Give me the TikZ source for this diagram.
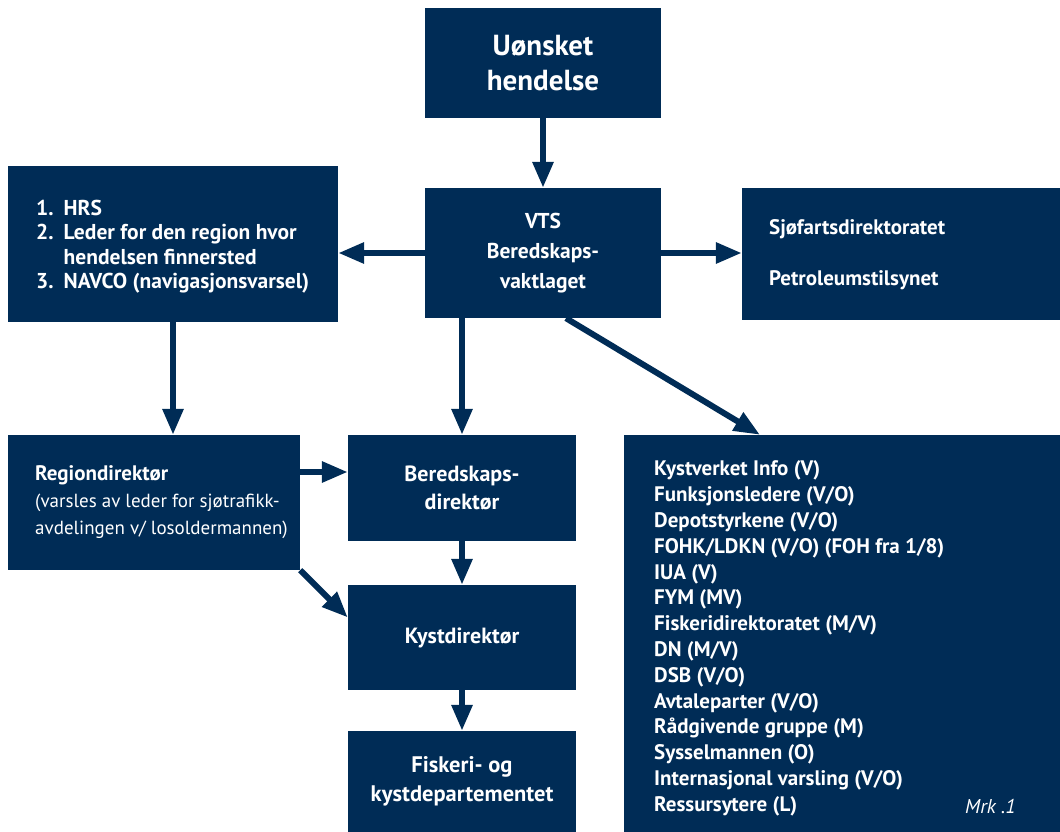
\documentclass[tikz,border=0pt]{standalone}
\usepackage{fontspec}
\setmainfont{PT Sans}
\usetikzlibrary{arrows.meta}
\definecolor{kvblaa}{RGB}{0,44,86}

\begin{document}
\begin{tikzpicture}[x=1pt,y=-1pt]
\tikzset{boks/.style={fill=kvblaa, text=white, inner sep=0pt, align=center},
  tekst/.style={text=white, anchor=west, align=left, inner sep=0pt},
  pil/.style={draw=kvblaa, line width=6pt, -{Triangle[length=26pt,width=20pt]}}}
\useasboundingbox (0,0) rectangle (1060,832);
% bokser
\node[boks, minimum width=236pt, minimum height=110pt, font=\bfseries\fontsize{29}{35}\selectfont] (uonsket) at (543,63) {Uønsket\\hendelse};
\node[boks, minimum width=236pt, minimum height=130pt, font=\bfseries\fontsize{21.5}{30}\selectfont] (vts) at (543,253) {VTS\\Beredskaps-\\vaktlaget};
\node[boks, minimum width=330pt, minimum height=156pt] (hrs) at (173,244) {};
\node[boks, minimum width=318pt, minimum height=132pt] (sjofart) at (901,254) {};
\node[boks, minimum width=292pt, minimum height=135pt] (region) at (154,502.5) {};
\node[boks, minimum width=228pt, minimum height=106pt, font=\bfseries\fontsize{22}{28}\selectfont] (beredskap) at (462,488) {Beredskaps-\\direktør};
\node[boks, minimum width=228pt, minimum height=105pt, font=\bfseries\fontsize{22}{28}\selectfont] (kyst) at (462,637.5) {Kystdirektør};
\node[boks, minimum width=228pt, minimum height=101pt, font=\bfseries\fontsize{22.5}{29}\selectfont] (fiskeri) at (462,781.5) {Fiskeri- og\\kystdepartementet};
\node[boks, minimum width=436pt, minimum height=397pt] (liste) at (842,633.5) {};
% tekst i boksene
\node[tekst, font=\bfseries\fontsize{21.5}{24.5}\selectfont] (hrstxt) at (36,247) {\begin{tabular}{@{}l@{\hspace{10pt}}l@{}}1. & HRS\\ 2. & Leder for den region hvor\\ & hendelsen finnersted\\ 3. & NAVCO (navigasjonsvarsel)\end{tabular}};
\node[tekst, font=\bfseries\fontsize{21}{51}\selectfont] (sjofarttxt) at (769,255) {Sjøfartsdirektoratet\\Petroleumstilsynet};
\node[tekst, font=\fontsize{19}{27}\selectfont] (regiontxt) at (35,502) {{\bfseries\fontsize{21}{27}\selectfont Regiondirektør}\\(varsles av leder for sjøtrafikk-\\avdelingen v/ losoldermannen)};
\node[tekst, font=\bfseries\fontsize{21}{25.8}\selectfont] (listetxt) at (654,638.5) {Kystverket Info (V)\\Funksjonsledere (V/O)\\Depotstyrkene (V/O)\\FOHK/LDKN (V/O) (FOH fra 1/8)\\IUA (V)\\FYM (MV)\\Fiskeridirektoratet (M/V)\\DN (M/V)\\DSB (V/O)\\Avtaleparter (V/O)\\Rådgivende gruppe (M)\\Sysselmannen (O)\\Internasjonal varsling (V/O)\\Ressursytere (L)};
\node[tekst, font=\itshape\fontsize{20}{22}\selectfont] (mrk) at (965,806) {Mrk .1};
% piler
\draw[pil] (uonsket.south) -- (vts.north);
\draw[pil] (vts.west) -- (vts.west -| hrs.east);
\draw[pil] (vts.east) -- (vts.east -| sjofart.west);
\draw[pil] (hrs.south) -- (hrs.south |- region.north);
\draw[pil] (beredskap.north |- vts.south) -- (beredskap.north);
\draw[pil] ([xshift=23pt]vts.south) -- ([xshift=-82pt]liste.north);
\draw[pil] ([yshift=16pt]beredskap.west -| region.east) -- ([yshift=16pt]beredskap.west);
\draw[pil] (region.south east) -- ([yshift=20pt]kyst.west);
\draw[pil] (beredskap.south) -- (kyst.north);
\draw[pil] (kyst.south) -- (fiskeri.north);
\end{tikzpicture}
\end{document}
